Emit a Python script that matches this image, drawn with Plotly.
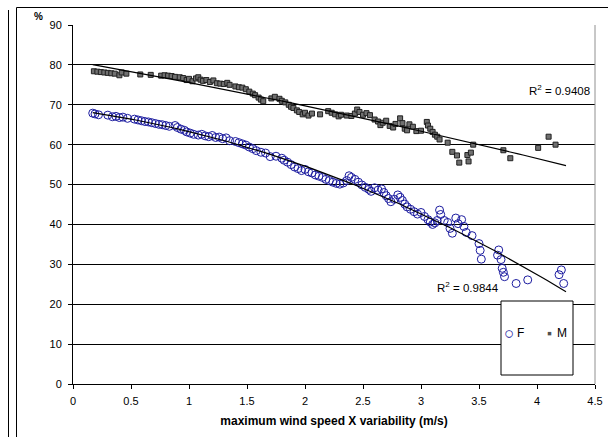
import numpy as np
import plotly.graph_objects as go

# ---- data ----
m_x = [0.18, 0.21, 0.24, 0.27, 0.30, 0.33, 0.36, 0.40, 0.42, 0.46, 0.58, 0.67, 0.76, 0.79, 0.82, 0.85,
       0.88, 0.92, 0.95, 0.98, 1.00, 1.03, 1.06, 1.08, 1.10, 1.12, 1.15, 1.18, 1.21, 1.24, 1.27, 1.30,
       1.33, 1.35, 1.40, 1.43, 1.46, 1.49, 1.52, 1.55, 1.57, 1.60, 1.62, 1.64, 1.71, 1.74, 1.78, 1.80,
       1.83, 1.86, 1.88, 1.90, 1.93, 1.95, 1.98, 2.00, 2.03, 2.06, 2.13, 2.20, 2.23, 2.26, 2.29, 2.31,
       2.36, 2.40, 2.43, 2.45, 2.47, 2.50, 2.53, 2.56, 2.60, 2.63, 2.65, 2.67, 2.70, 2.73, 2.76, 2.78,
       2.82, 2.84, 2.86, 2.88, 2.90, 2.93, 2.96, 3.00, 3.05, 3.06, 3.08, 3.10, 3.12, 3.14, 3.16, 3.23,
       3.27, 3.31, 3.33, 3.40, 3.41, 3.43, 3.45, 3.71, 3.77, 4.01, 4.10, 4.16]
m_y = [78.4, 78.3, 78.2, 78.1, 78.0, 77.9, 77.8, 77.4, 78.1, 77.8, 77.6, 77.5, 77.3, 77.4, 77.3, 77.2,
       77.0, 76.9, 76.7, 76.2, 76.5, 75.9, 76.6, 76.9, 76.3, 76.0, 76.2, 75.7, 76.1, 75.4, 75.3, 75.2,
       75.5, 75.0, 74.6, 74.4, 74.3, 73.9, 73.3, 72.8, 72.4, 71.8, 71.3, 70.9, 71.6, 72.0, 71.5, 71.0,
       70.6, 70.0, 69.5, 69.2, 68.6, 68.2, 67.6, 68.0, 67.3, 67.8, 67.6, 68.4, 68.0, 67.6, 67.1, 67.5,
       67.3, 67.2, 67.8, 68.8, 68.2, 67.5, 67.9, 67.4, 66.3, 65.8, 64.9, 65.5, 66.0, 64.7, 64.3, 65.2,
       66.6, 65.4, 64.0, 63.6, 65.1, 64.5, 63.4, 63.5, 65.7, 64.8, 64.0, 63.2, 62.5, 62.0, 61.3, 60.5,
       58.2, 57.3, 55.5, 57.4, 55.8, 58.0, 60.0, 58.6, 56.6, 59.2, 62.0, 60.0]

f_x = [0.17, 0.19, 0.22, 0.30, 0.34, 0.37, 0.40, 0.43, 0.47, 0.53, 0.56, 0.59, 0.62, 0.65, 0.68, 0.71,
       0.74, 0.77, 0.80, 0.83, 0.88, 0.90, 0.93, 0.96, 0.98, 1.01, 1.04, 1.08, 1.11, 1.14, 1.17, 1.20,
       1.23, 1.26, 1.29, 1.32, 1.35, 1.40, 1.43, 1.46, 1.49, 1.52, 1.55, 1.58, 1.62, 1.66, 1.70, 1.75,
       1.80, 1.82, 1.85, 1.88, 1.91, 1.94, 1.97, 2.00, 2.03, 2.06, 2.09, 2.12, 2.15, 2.18, 2.21, 2.24,
       2.27, 2.30, 2.33, 2.36, 2.38, 2.40, 2.43, 2.46, 2.49, 2.52, 2.55, 2.57, 2.60, 2.63, 2.66, 2.68,
       2.70, 2.72, 2.74, 2.77, 2.80, 2.82, 2.84, 2.86, 2.88, 2.91, 2.94, 2.97, 3.00, 3.03, 3.06, 3.08,
       3.10, 3.12, 3.14, 3.16, 3.17, 3.20, 3.23, 3.25, 3.27, 3.30, 3.32, 3.35, 3.37, 3.39, 3.44, 3.50,
       3.51, 3.52, 3.66, 3.67, 3.69, 3.70, 3.71, 3.72, 3.82, 3.92, 4.19, 4.21, 4.23]
f_y = [67.9, 67.7, 67.5, 67.4, 67.0, 67.1, 66.8, 66.9, 66.6, 66.4, 66.2, 66.0, 65.8, 65.7, 65.5, 65.3,
       65.1, 65.0, 64.8, 64.6, 64.8, 64.3, 63.9, 63.6, 63.2, 62.9, 62.6, 62.4, 62.6, 62.2, 62.0, 62.3,
       61.8, 61.9, 61.5, 61.7, 61.0, 60.8, 60.5, 60.2, 59.9, 59.4, 59.0, 58.5, 58.1, 57.9, 57.0, 57.1,
       56.6, 56.1, 55.6, 55.0, 54.4, 54.0, 53.5, 53.8, 53.2, 52.9, 52.4, 52.1, 51.8, 51.3, 51.0, 50.6,
       50.3, 50.1, 50.4, 51.0, 52.2, 51.8, 51.3, 50.6, 49.9, 49.3, 48.8, 48.3, 49.2, 48.6, 48.9, 48.0,
       47.2, 46.5, 45.7, 46.3, 47.4, 46.8, 46.0, 45.1, 44.4, 43.8, 43.2, 42.6, 43.0, 42.0, 41.2, 40.6,
       40.0, 40.4, 41.0, 43.6, 42.5, 41.0, 40.5, 39.0, 37.8, 41.6, 40.2, 41.2, 39.5, 38.0, 37.2, 35.2,
       33.5, 31.3, 32.3, 33.6, 31.2, 29.0, 28.0, 26.9, 25.2, 26.1, 27.4, 28.6, 25.2]

x_ticks = [0, 0.5, 1, 1.5, 2, 2.5, 3, 3.5, 4, 4.5]
y_ticks = [0, 10, 20, 30, 40, 50, 60, 70, 80, 90]
series_names = ["F", "M"]
r2_f_text = "R<sup>2</sup> = 0.9844"
r2_m_text = "R<sup>2</sup> = 0.9408"

F_COLOR = "#1c1ca0"
M_FILL = "#707070"
M_EDGE = "#202020"

# ---- polynomial (order 2) trendlines fitted to the data ----
x_lo = min(min(f_x), min(m_x))
x_hi = max(max(f_x), max(m_x)) + 0.02
xs = np.linspace(x_lo, x_hi, 100)
f_fit = np.polyval(np.polyfit(f_x, f_y, 2), xs)
m_fit = np.polyval(np.polyfit(m_x, m_y, 2), xs)

W, H = 608, 437
L, R, T, B = 73, 13, 25, 53
PW, PH = W - L - R, H - T - B


def px(xp):
    return (xp - L) / PW


def py(yp):
    return (H - B - yp) / PH


FONT = "Liberation Sans, Arial, sans-serif"

fig = go.Figure()
fig.add_trace(go.Scatter(x=f_x, y=f_y, mode="markers", name=series_names[0], showlegend=False,
                         marker=dict(symbol="circle-open", size=8, color=F_COLOR,
                                     line=dict(width=1, color=F_COLOR))))
fig.add_trace(go.Scatter(x=m_x, y=m_y, mode="markers", name=series_names[1], showlegend=False,
                         marker=dict(symbol="square", size=5, color=M_FILL,
                                     line=dict(width=1, color=M_EDGE))))
fig.add_trace(go.Scatter(x=xs, y=f_fit, mode="lines", line=dict(color="black", width=1.2),
                         showlegend=False, hoverinfo="skip"))
fig.add_trace(go.Scatter(x=xs, y=m_fit, mode="lines", line=dict(color="black", width=1.2),
                         showlegend=False, hoverinfo="skip"))


def note(text, xp, yp, size, anchor="center", color="black"):
    return dict(text=text, xref="paper", yref="paper", x=px(xp), y=py(yp), xanchor=anchor,
                yanchor="middle", showarrow=False, font=dict(size=size, color=color))


fig.update_layout(
    width=W, height=H,
    margin=dict(l=L, r=R, t=T, b=B, pad=0, autoexpand=False),
    paper_bgcolor="white", plot_bgcolor="white",
    font=dict(family=FONT, size=11, color="black"),
    showlegend=False,
    xaxis=dict(range=[0, 4.5], tickvals=x_ticks, ticktext=[f"{v:g}" for v in x_ticks],
               showgrid=False, zeroline=False, showline=True, linecolor="black", linewidth=1,
               ticks="outside", ticklen=4, tickcolor="black", ticklabelstandoff=3,
               title=dict(text="<b>maximum wind speed X variability (m/s)</b>",
                          font=dict(size=12), standoff=10)),
    yaxis=dict(range=[0, 90], tickvals=y_ticks, showgrid=True, gridcolor="black", gridwidth=1,
               zeroline=False, showline=True, linecolor="black", linewidth=1,
               ticks="outside", ticklen=4, tickcolor="black", ticklabelstandoff=4),
    shapes=[
        # right border of the plot area
        dict(type="line", xref="paper", yref="paper", x0=1, x1=1, y0=0, y1=1,
             line=dict(color="#909090", width=1)),
        # outer frames
        dict(type="line", xref="paper", yref="paper", x0=px(8.5), x1=px(8.5), y0=py(10), y1=py(437),
             line=dict(color="black", width=1)),
        dict(type="line", xref="paper", yref="paper", x0=px(16.5), x1=px(16.5), y0=py(7.5), y1=py(437),
             line=dict(color="black", width=1)),
        dict(type="line", xref="paper", yref="paper", x0=px(16.5), x1=px(608), y0=py(7.5), y1=py(7.5),
             line=dict(color="black", width=1)),
        # legend box
        dict(type="rect", xref="paper", yref="paper", x0=px(501), x1=px(573), y0=py(301), y1=py(375),
             line=dict(color="black", width=1), fillcolor="white", layer="above"),
    ],
    annotations=[
        note("<b>%</b>", 32, 17, 10, anchor="left"),
        note(r2_m_text, 559, 90, 11.5),
        note(r2_f_text, 468, 287, 11.5),
        # legend entries
        note("○", 509, 333, 17, color=F_COLOR),
        note(series_names[0], 515, 333, 12, anchor="left"),
        note("▪", 549, 333, 14, color="#505050"),
        note(series_names[1], 555, 333, 12, anchor="left"),
    ],
)

fig.write_html("out.html")
